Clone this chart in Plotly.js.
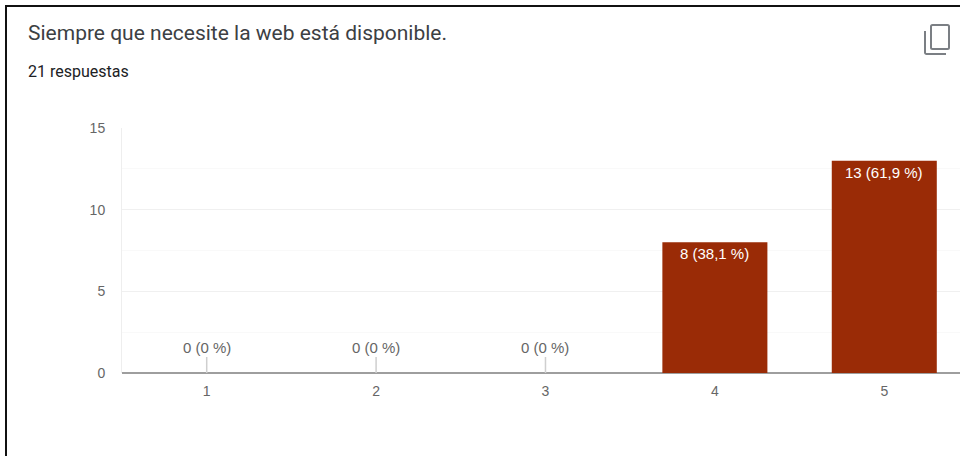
<!DOCTYPE html>
<html lang="es">
<head>
<meta charset="utf-8">
<title>Siempre que necesite la web está disponible.</title>
<script src="https://cdn.plot.ly/plotly-3.0.1.min.js"></script>
<style>
  html, body { margin: 0; padding: 0; background: #fff; width: 960px; height: 456px; overflow: hidden; }
  #card { position: absolute; left: 0; top: 0; width: 960px; height: 456px; }
  #frame { position: absolute; left: 5px; top: 5px; width: 955px; height: 451px;
           border-left: 2px solid #111; border-top: 2px solid #111; box-sizing: border-box; pointer-events: none; }
  #copy { position: absolute; left: 923px; top: 23px; }
</style>
</head>
<body>
<div id="card">
  <div id="chart"></div>
  <div id="frame"></div>
  <!-- "copy chart" icon in the card's corner -->
  <svg id="copy" width="29" height="34" viewBox="0 0 29 34" fill="none" stroke="#7b7f84" stroke-width="2">
    <rect x="8" y="2" width="18" height="24" rx="1.5"/>
    <path d="M2 8 V29.5 a1.5 1.5 0 0 0 1.5 1.5 H23"/>
  </svg>
</div>
<script>
const questionTitle = 'Siempre que necesite la web está disponible.';
const responseCount = '21 respuestas';
const categories = [1, 2, 3, 4, 5];
const counts = [0, 0, 0, 8, 13];
const percentLabels = ['0 %', '0 %', '0 %', '38,1 %', '61,9 %'];
const valueTicks = [0, 5, 10, 15];

const barColor = '#9a2b06';
const sansFamily = 'Liberation Sans, Arial, sans-serif';
const tickFont = { family: sansFamily, size: 14, color: '#666666' };

const labels = counts.map((c, i) => `${c} (${percentLabels[i]})`);

// Non-zero counts carry their label inside the bar; zero counts get a stem with the label above it.
const annotations = categories.map((cat, i) => counts[i] > 0
  ? { x: cat, y: counts[i], xref: 'x', yref: 'y', text: labels[i], showarrow: false,
      yanchor: 'top', yshift: -1,
      font: { family: sansFamily, size: 15, color: '#ffffff' } }
  : { x: cat, y: counts[i], xref: 'x', yref: 'y', text: labels[i], showarrow: true,
      arrowhead: 0, arrowwidth: 1.5, arrowcolor: '#cfcfcf', ax: 0, ay: -16, standoff: 0,
      yanchor: 'bottom', borderpad: 0,
      font: { family: sansFamily, size: 15, color: '#666666' } });

annotations.push({
  xref: 'paper', yref: 'paper', xanchor: 'left', yanchor: 'middle', xshift: -2,
  x: -94 / 838, y: 1 + 56 / 245, text: responseCount, showarrow: false,
  font: { family: 'Roboto, sans-serif', size: 16, color: '#202124' }
});

Plotly.newPlot('chart', [{
  type: 'bar',
  x: categories,
  y: counts,
  width: 0.62,
  marker: { color: barColor },
  hoverinfo: 'skip'
}], {
  width: 960,
  height: 456,
  margin: { l: 122, r: 0, t: 128, b: 83, pad: 0 },
  paper_bgcolor: '#ffffff',
  plot_bgcolor: '#ffffff',
  showlegend: false,
  title: {
    text: questionTitle,
    x: 28 / 960, xanchor: 'left', xref: 'container',
    y: 1 - 33 / 456, yanchor: 'middle', yref: 'container',
    font: { family: 'Roboto, sans-serif', size: 21, color: '#3c4043' }
  },
  xaxis: {
    range: [0.5, 5.447],
    tickmode: 'array',
    tickvals: categories,
    ticktext: categories.map(String),
    ticks: '',
    ticklabelstandoff: 8,
    tickfont: tickFont,
    showgrid: false,
    zeroline: false,
    showline: false,
    fixedrange: true
  },
  yaxis: {
    range: [0, 15],
    tickmode: 'array',
    tickvals: valueTicks,
    ticktext: valueTicks.map(String),
    ticks: '',
    ticklabelstandoff: 13,
    tickfont: tickFont,
    showgrid: true,
    gridcolor: '#f0f0f0',
    gridwidth: 1,
    minor: { dtick: 2.5, showgrid: true, gridcolor: '#f9f9f9', gridwidth: 1, ticks: '' },
    zeroline: true,
    zerolinecolor: '#9e9e9e',
    zerolinewidth: 2,
    showline: true,
    linecolor: '#eeeeee',
    linewidth: 1,
    fixedrange: true
  },
  annotations: annotations
}, { displayModeBar: false, staticPlot: true });
</script>
</body>
</html>
